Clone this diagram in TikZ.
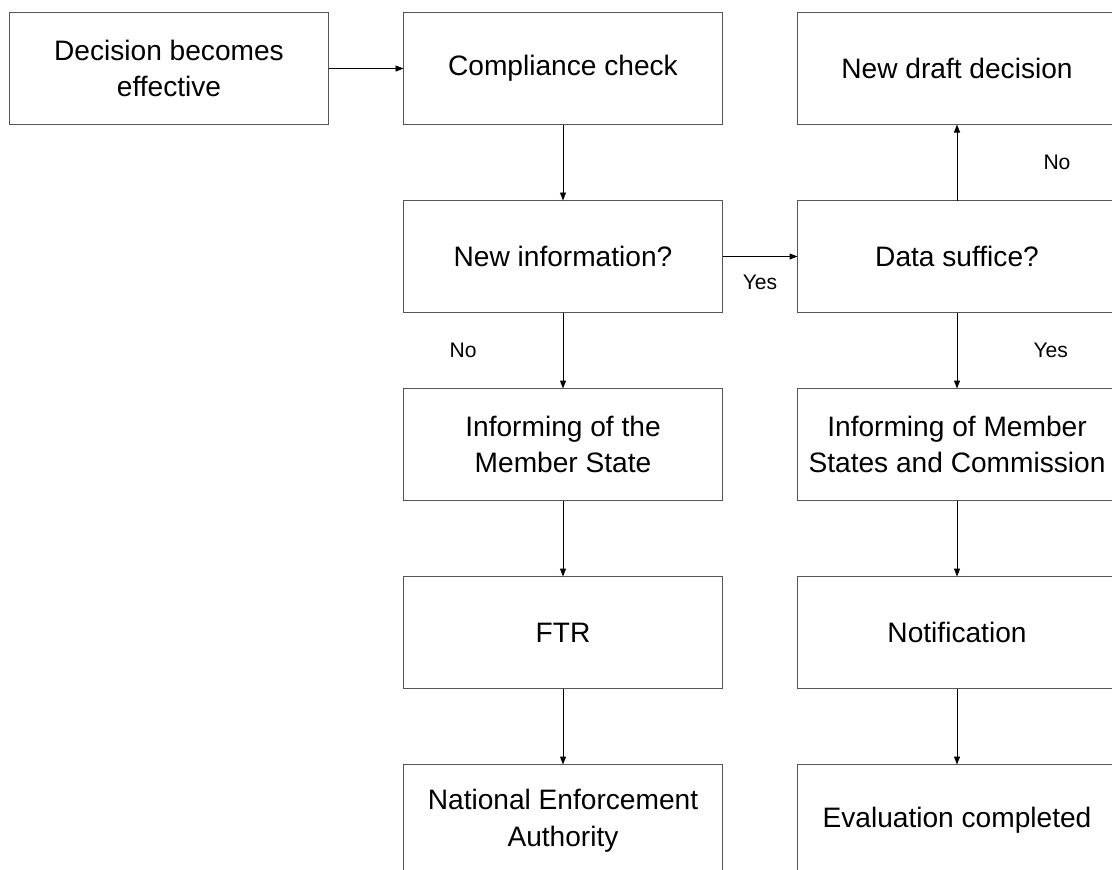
\documentclass[tikz,border=0pt]{standalone}
\usepackage{fontspec}
\setmainfont{Liberation Sans}
\usepackage{tikz}
\usetikzlibrary{arrows.meta,positioning}
\definecolor{boxline}{HTML}{555555}
\tikzset{
  stepbox/.style={
    draw=boxline, line width=1pt, fill=white, outer sep=0pt,
    minimum width=7.975cm, minimum height=2.8cm,
    font=\fontsize{20}{26}\selectfont, align=center,
  },
  arrow/.style={-{Triangle[length=0.2cm,width=0.15cm]}, line width=0.7pt, color=black},
  lbl/.style={font=\fontsize{15}{17}\selectfont, inner sep=0pt, midway},
}
\begin{document}
\begin{tikzpicture}[node distance=1.9cm and 1.875cm]
  \useasboundingbox (0,0) rectangle (27.8,-21.725);
  \clip (0,0) rectangle (27.8,-21.725);

  % top row
  \node[stepbox] (decision) at (4.225,-1.7125) {Decision becomes\\effective};
  \node[stepbox, right=of decision] (compliance) {Compliance check};
  \node[stepbox, right=of compliance] (newdraft) {New draft decision};

  % left column
  \node[stepbox, below=of compliance] (newinfo) {New information?};
  \node[stepbox, below=of newinfo] (informms) {Informing of the\\Member State};
  \node[stepbox, below=of informms] (ftr) {FTR};
  \node[stepbox, below=of ftr] (nea) {National Enforcement\\Authority};

  % right column
  \node[stepbox, below=of newdraft] (datasuffice) {Data suffice?};
  \node[stepbox, below=of datasuffice] (informmsc) {Informing of Member\\States and Commission};
  \node[stepbox, below=of informmsc] (notification) {Notification};
  \node[stepbox, below=of notification] (evaluation) {Evaluation completed};

  \draw[arrow] (decision) -- (compliance);
  \draw[arrow] (compliance) -- (newinfo);
  \draw[arrow] (newinfo) -- node[lbl, below=0.45cm]{Yes} (datasuffice);
  \draw[arrow] (newinfo) -- node[lbl, left=2.15cm]{No} (informms);
  \draw[arrow] (informms) -- (ftr);
  \draw[arrow] (ftr) -- (nea);
  \draw[arrow] (datasuffice) -- node[lbl, right=2.15cm]{No} (newdraft);
  \draw[arrow] (datasuffice) -- node[lbl, right=1.9cm]{Yes} (informmsc);
  \draw[arrow] (informmsc) -- (notification);
  \draw[arrow] (notification) -- (evaluation);

\end{tikzpicture}
\end{document}
